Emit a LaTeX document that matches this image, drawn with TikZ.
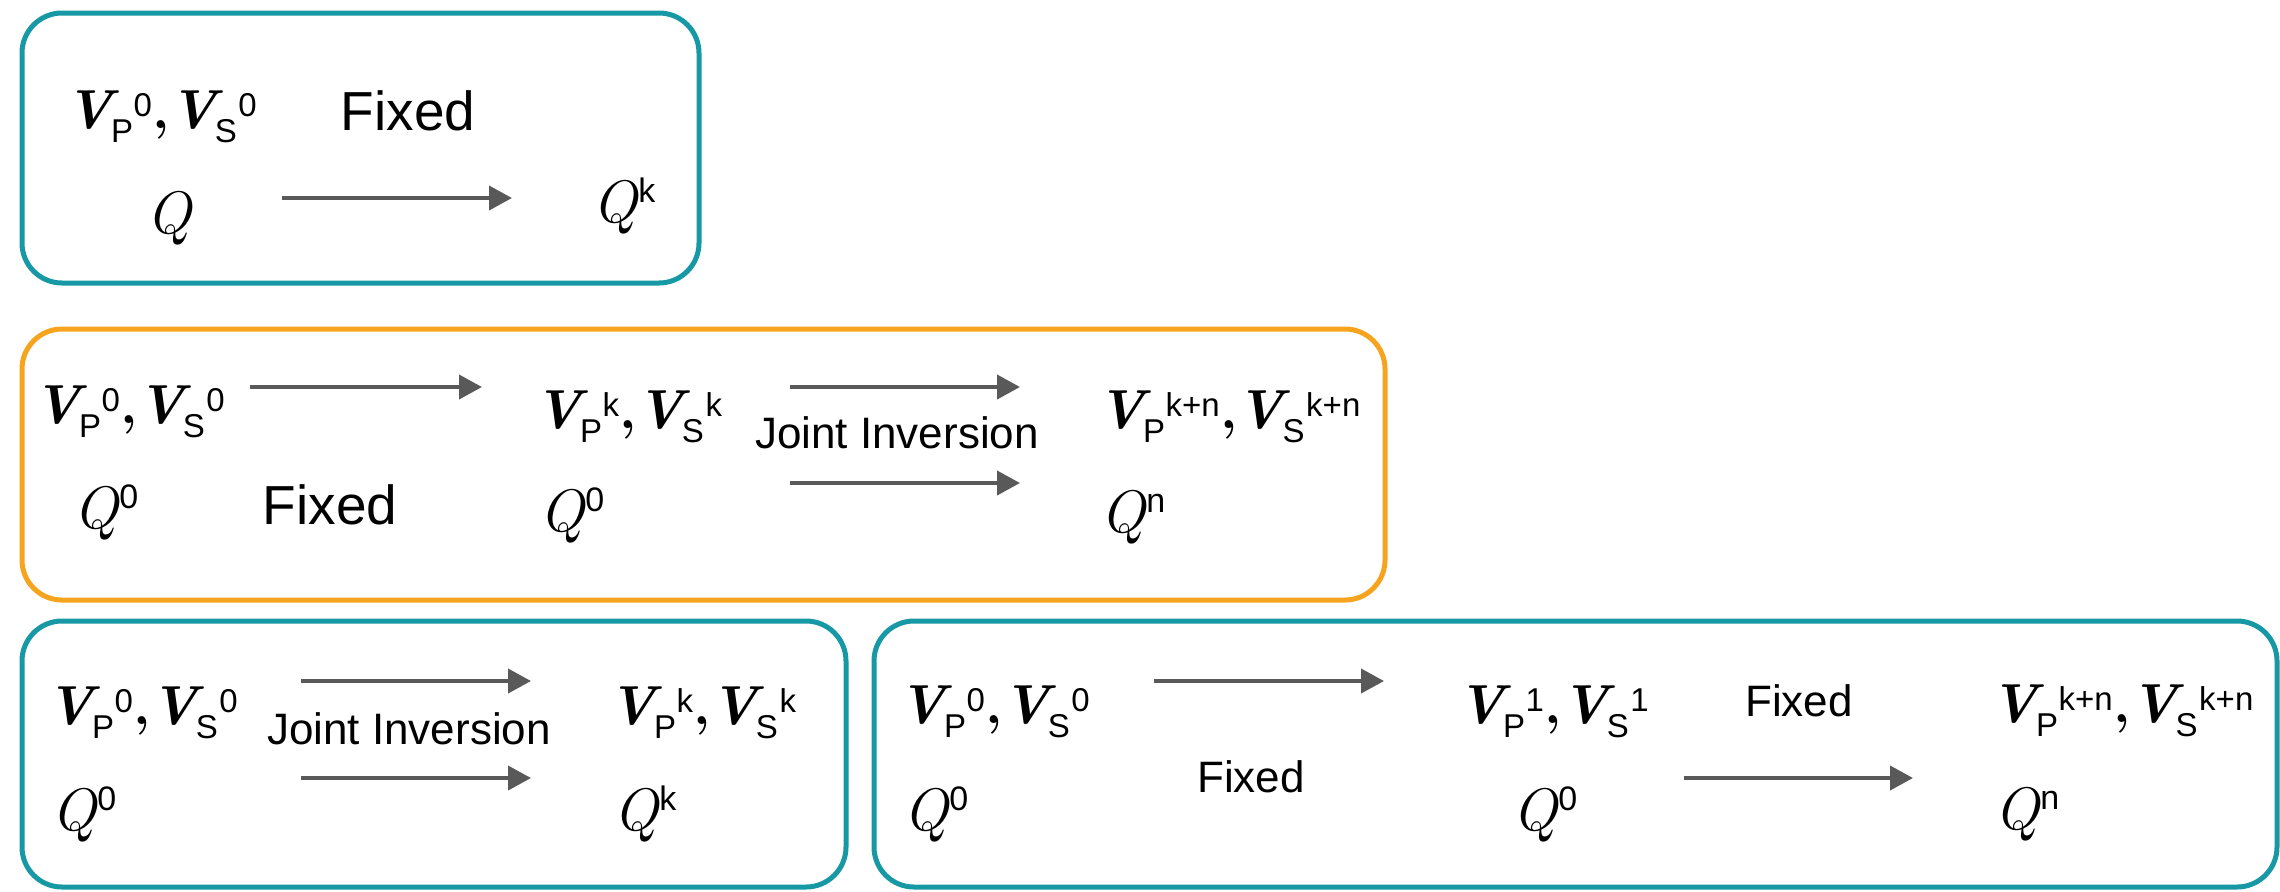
\documentclass[tikz,border=0pt]{standalone}
\usepackage{fontspec}
\setmainfont{Latin Modern Roman}
\setsansfont{Liberation Sans}
\usetikzlibrary{arrows.meta}
\definecolor{tealc}{RGB}{22,152,165}
\definecolor{orangec}{RGB}{246,164,30}
\definecolor{arrc}{RGB}{89,89,89}
\newcommand\subs[1]{{\sffamily\fontsize{16.5}{18}\selectfont\lower 7pt\hbox{#1}}}
\newcommand\sups[1]{{\sffamily\fontsize{16.5}{18}\selectfont\raise 6pt\hbox{#1}}}
\newcommand\qsups[1]{{\sffamily\fontsize{17}{18}\selectfont\raise 10pt\hbox{#1}}}
\newcommand\bV{{\bfseries\itshape V}}
\newcommand\VVpair[2]{\bV\kern-1pt\subs{P}\kern0.3pt\sups{#1}\kern0.3pt{\bfseries,}\kern-0.3pt\bV\kern-1pt\subs{S}\kern0.8pt\sups{#2}}
\newcommand\QQ[1]{{\itshape Q}\kern0.5pt\qsups{#1}}
\tikzset{
  framebox/.style={line width=2.5pt, rounded corners=20pt},
  tealframe/.style={framebox, draw=tealc},
  orangeframe/.style={framebox, draw=orangec},
  mathlbl/.style={inner sep=0pt, anchor=west, font=\fontsize{27.5}{32}\selectfont},
  qlbl/.style={inner sep=0pt, anchor=west, font=\fontsize{30}{34}\selectfont},
  biglbl/.style={inner sep=0pt, font=\sffamily\fontsize{27.5}{32}\selectfont},
  smalllbl/.style={inner sep=0pt, font=\sffamily\fontsize{22}{26}\selectfont},
  arr/.style={draw=arrc, line width=2pt, -{Triangle[length=11.5pt,width=12pt]}}
}
\begin{document}
\begin{tikzpicture}[x=0.5pt,y=-0.5pt]
\useasboundingbox (0,0) rectangle (2280,891);
% frames
\draw[tealframe] (22,13) rectangle (699,283);
\draw[orangeframe] (22,329) rectangle (1385,600);
\draw[tealframe] (22,621) rectangle (846,887);
\draw[tealframe] (874,621) rectangle (2277,887);
% box 1
\node[mathlbl] (b1v) at (65,117) {\VVpair{0}{0}};
\node[biglbl] (b1f) at (408,111) {Fixed};
\node[qlbl] (b1q) at (146,218) {\itshape Q};
\node[qlbl] (b1qk) at (592,206) {\QQ{k}};
\coordinate (b1as) at (282,198);
\coordinate (b1ae) at (512,198);
\draw[arr] (b1as) -- (b1ae);
% box 2
\node[mathlbl] (b2v0) at (33,412) {\VVpair{0}{0}};
\node[mathlbl] (b2vk) at (534,417) {\VVpair{k}{k}};
\node[mathlbl] (b2vkn) at (1097,417) {\VVpair{k+n}{k+n}};
\node[smalllbl] (b2j) at (897,433) {Joint Inversion};
\node[biglbl] (b2f) at (330,505) {Fixed};
\node[qlbl] (b2q0) at (73,512) {\QQ{0}};
\node[qlbl] (b2q0b) at (539,515) {\QQ{0}};
\node[qlbl] (b2qn) at (1100,517) {\QQ{n}};
\coordinate (b2a1s) at (250,387);
\coordinate (b2a1e) at (482,387);
\coordinate (b2a2s) at (790,387);
\coordinate (b2a2e) at (1020,387);
\coordinate (b2a3s) at (790,483);
\coordinate (b2a3e) at (1020,483);
\draw[arr] (b2a1s) -- (b2a1e);
\draw[arr] (b2a2s) -- (b2a2e);
\draw[arr] (b2a3s) -- (b2a3e);
% box 3
\node[mathlbl] (b3v0) at (46,713) {\VVpair{0}{0}};
\node[smalllbl] (b3j) at (409,729) {Joint Inversion};
\node[mathlbl] (b3vk) at (608,713) {\VVpair{k}{k}};
\node[qlbl] (b3q0) at (51,814) {\QQ{0}};
\node[qlbl] (b3qk) at (613,814) {\QQ{k}};
\coordinate (b3a1s) at (301,681);
\coordinate (b3a1e) at (531,681);
\coordinate (b3a2s) at (301,778);
\coordinate (b3a2e) at (531,778);
\draw[arr] (b3a1s) -- (b3a1e);
\draw[arr] (b3a2s) -- (b3a2e);
% box 4
\node[mathlbl] (b4v0) at (898,712) {\VVpair{0}{0}};
\node[mathlbl] (b4v1) at (1457,712) {\VVpair{1}{1}};
\node[mathlbl] (b4vkn) at (1990,711) {\VVpair{k+n}{k+n}};
\node[smalllbl] (b4f1) at (1799,701) {Fixed};
\node[smalllbl] (b4f2) at (1251,777) {Fixed};
\node[qlbl] (b4q0) at (903,814) {\QQ{0}};
\node[qlbl] (b4q0b) at (1512,814) {\QQ{0}};
\node[qlbl] (b4qn) at (1994,814) {\QQ{n}};
\coordinate (b4a1s) at (1154,681);
\coordinate (b4a1e) at (1384,681);
\coordinate (b4a2s) at (1684,778);
\coordinate (b4a2e) at (1913,778);
\draw[arr] (b4a1s) -- (b4a1e);
\draw[arr] (b4a2s) -- (b4a2e);
\end{tikzpicture}
\end{document}
